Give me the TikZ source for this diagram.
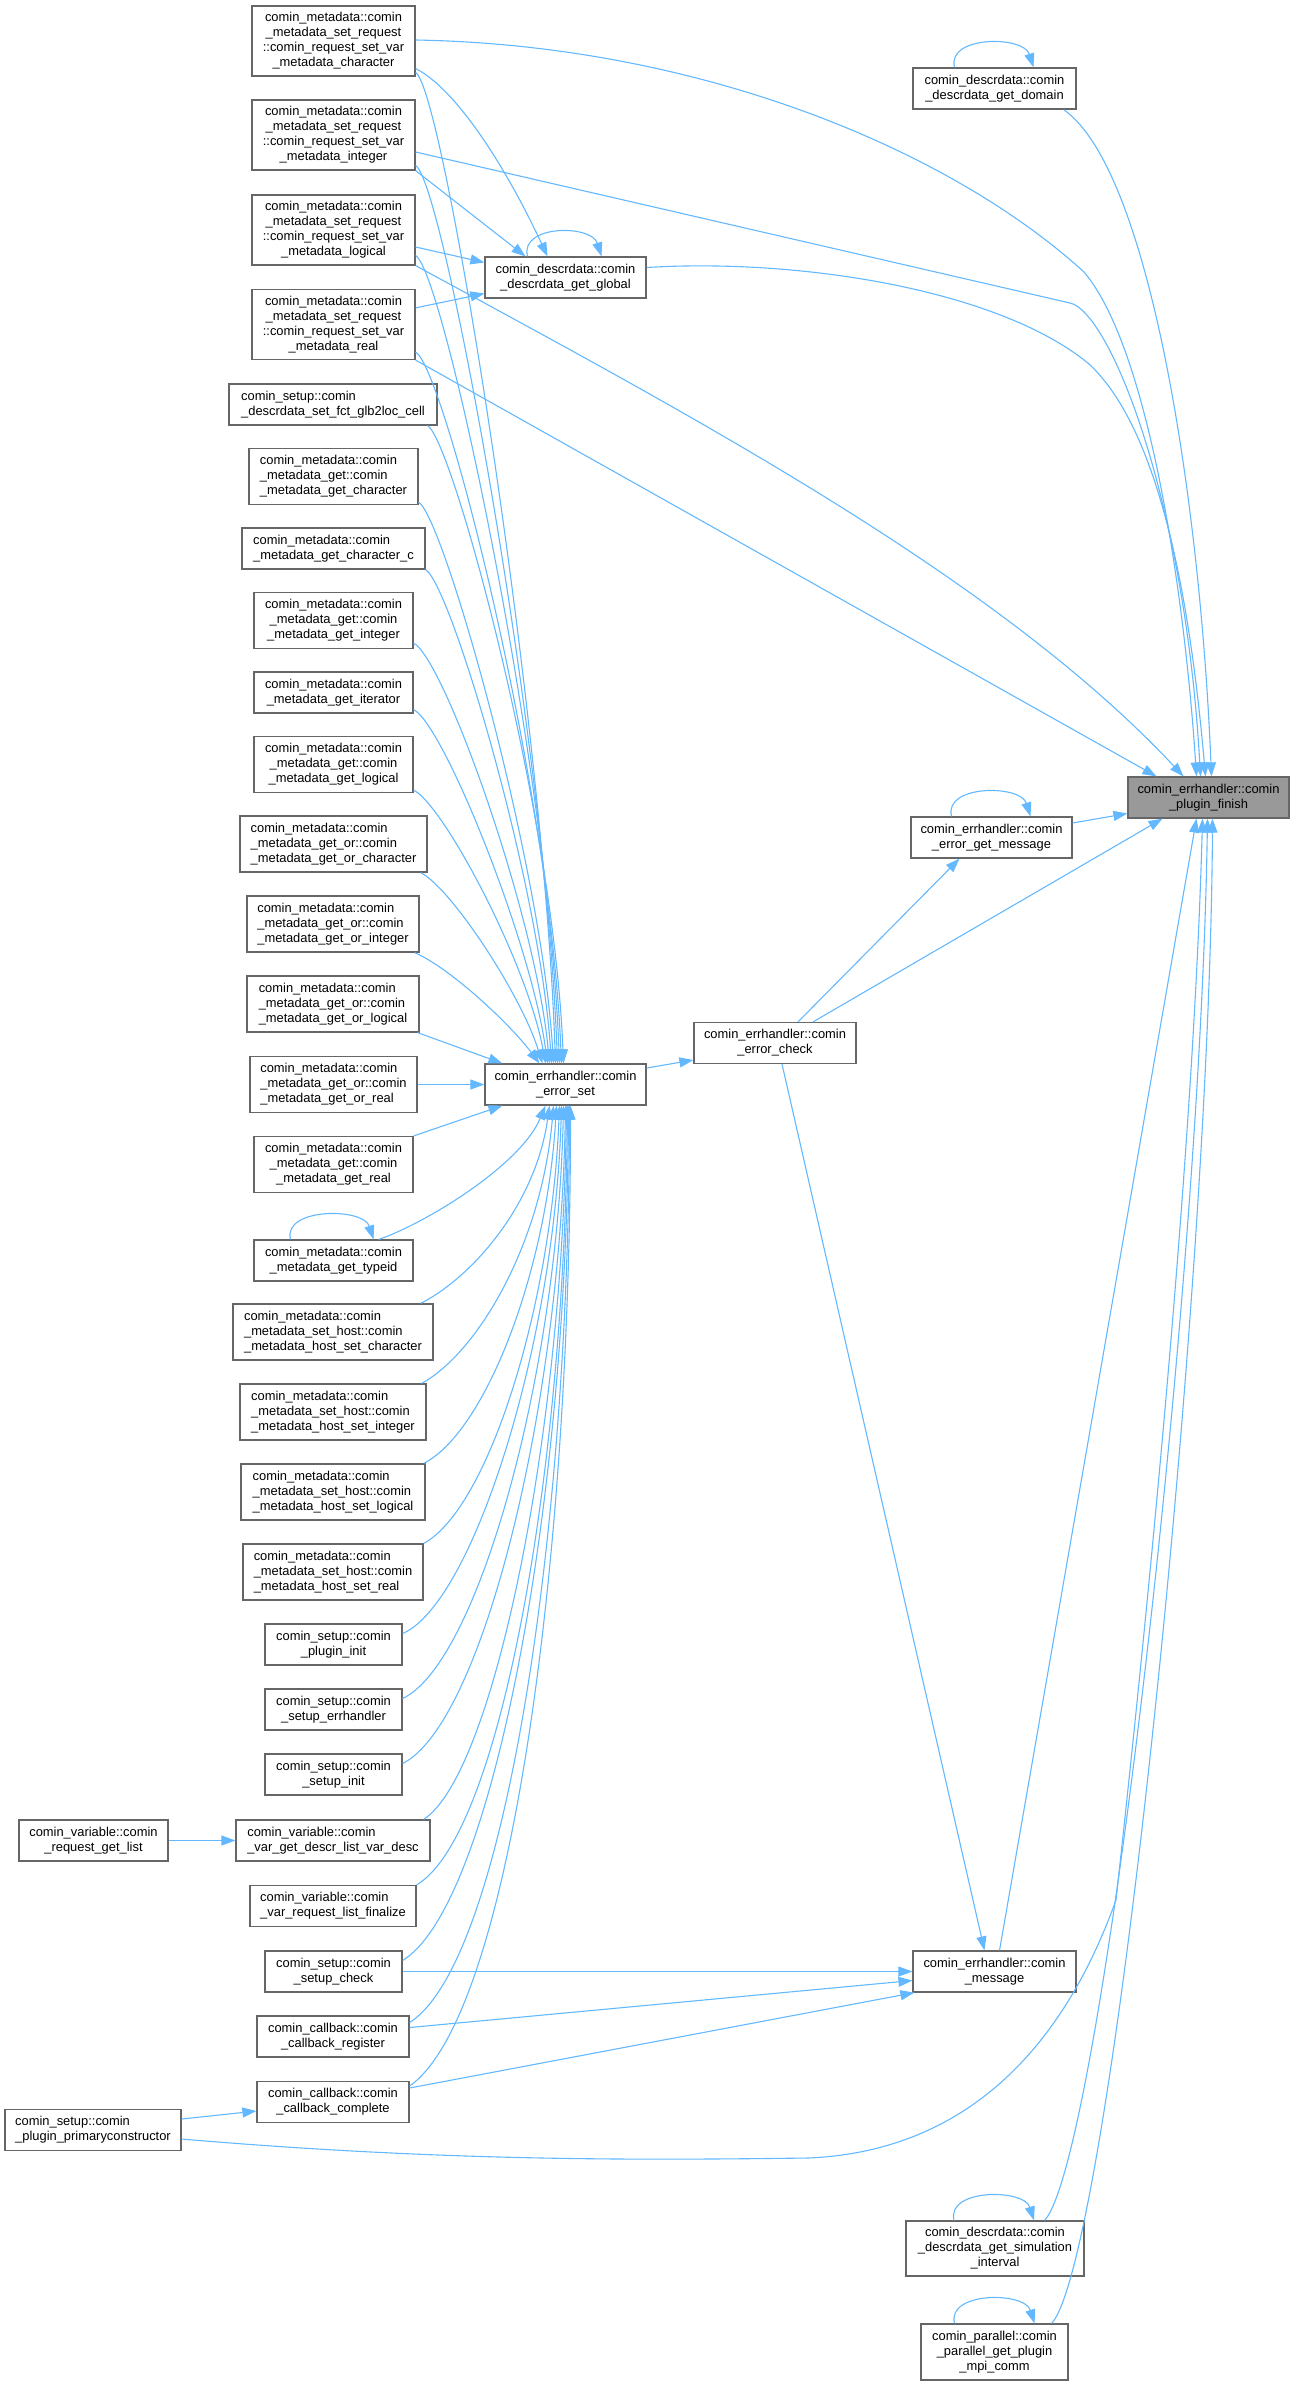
\documentclass[tikz,border=0pt]{standalone}
\usepackage{fontspec}
\setmainfont{Liberation Sans}
\usetikzlibrary{arrows.meta,calc}
\definecolor{edgeblue}{HTML}{63B8FF}
\definecolor{boxgray}{HTML}{666666}
\definecolor{rootgray}{HTML}{999999}
\tikzset{
  box/.style={draw=boxgray, line width=1.2pt, fill=white, rectangle, inner sep=0pt,
    align=center, font=\fontsize{12.9}{15}\selectfont, text=black},
  boxl/.style={box, align=left},
  sz/.style 2 args={minimum width=#1, minimum height=#2},
  conn/.style={draw=edgeblue, line width=1.1pt, -{Triangle[length=14pt,width=10pt]}},
}
\begin{document}
\begin{tikzpicture}[x=1pt,y=-1pt]
\useasboundingbox (0,0) rectangle (1295,2386);

% ---------- column 2 ----------
\node[box, sz={163pt}{70pt}] (src) at (333.5,41) {comin\_metadata::comin\\\_metadata\_set\_request\\::comin\_request\_set\_var\\\_metadata\_character};
\node[box, sz={163pt}{70pt}] (sri) at (333.5,135) {comin\_metadata::comin\\\_metadata\_set\_request\\::comin\_request\_set\_var\\\_metadata\_integer};
\node[box, sz={163pt}{70pt}] (srl) at (333.5,230) {comin\_metadata::comin\\\_metadata\_set\_request\\::comin\_request\_set\_var\\\_metadata\_logical};
\node[box, sz={163pt}{70pt}] (srr) at (333.5,324.5) {comin\_metadata::comin\\\_metadata\_set\_request\\::comin\_request\_set\_var\\\_metadata\_real};
\node[boxl, sz={208pt}{41pt}] (glb) at (333,404.5) {comin\_setup::comin\\\_descrdata\_set\_fct\_glb2loc\_cell};
\node[boxl, sz={169pt}{56pt}] (gch) at (333.5,476.5) {comin\_metadata::comin\\\_metadata\_get::comin\\\_metadata\_get\_character};
\node[boxl, sz={183pt}{41pt}] (gcc) at (333.5,548.5) {comin\_metadata::comin\\\_metadata\_get\_character\_c};
\node[box, sz={159pt}{56pt}] (gin) at (333.5,620.5) {comin\_metadata::comin\\\_metadata\_get::comin\\\_metadata\_get\_integer};
\node[box, sz={159pt}{41pt}] (git) at (333.5,692.5) {comin\_metadata::comin\\\_metadata\_get\_iterator};
\node[box, sz={159pt}{56pt}] (glo) at (333.5,764.5) {comin\_metadata::comin\\\_metadata\_get::comin\\\_metadata\_get\_logical};
\node[boxl, sz={187pt}{56pt}] (goc) at (333.5,844) {comin\_metadata::comin\\\_metadata\_get\_or::comin\\\_metadata\_get\_or\_character};
\node[boxl, sz={172pt}{56pt}] (goi) at (333,924) {comin\_metadata::comin\\\_metadata\_get\_or::comin\\\_metadata\_get\_or\_integer};
\node[boxl, sz={172pt}{56pt}] (gol) at (333,1004) {comin\_metadata::comin\\\_metadata\_get\_or::comin\\\_metadata\_get\_or\_logical};
\node[boxl, sz={167pt}{56pt}] (gor) at (333.5,1084.5) {comin\_metadata::comin\\\_metadata\_get\_or::comin\\\_metadata\_get\_or\_real};
\node[box, sz={159pt}{56pt}] (gre) at (333.5,1164.5) {comin\_metadata::comin\\\_metadata\_get::comin\\\_metadata\_get\_real};
\node[box, sz={159pt}{41pt}] (gty) at (333.5,1260.5) {comin\_metadata::comin\\\_metadata\_get\_typeid};
\node[boxl, sz={200pt}{56pt}] (hsc) at (333,1332) {comin\_metadata::comin\\\_metadata\_set\_host::comin\\\_metadata\_host\_set\_character};
\node[boxl, sz={186pt}{56pt}] (hsi) at (333,1412) {comin\_metadata::comin\\\_metadata\_set\_host::comin\\\_metadata\_host\_set\_integer};
\node[boxl, sz={184pt}{56pt}] (hsl) at (333,1492) {comin\_metadata::comin\\\_metadata\_set\_host::comin\\\_metadata\_host\_set\_logical};
\node[boxl, sz={180pt}{56pt}] (hsr) at (333,1572) {comin\_metadata::comin\\\_metadata\_set\_host::comin\\\_metadata\_host\_set\_real};
\node[box, sz={137pt}{41pt}] (pin) at (333.5,1644.5) {comin\_setup::comin\\\_plugin\_init};
\node[box, sz={137pt}{41pt}] (ser) at (333.5,1709.5) {comin\_setup::comin\\\_setup\_errhandler};
\node[box, sz={137pt}{41pt}] (sin) at (333.5,1774.5) {comin\_setup::comin\\\_setup\_init};
\node[boxl, sz={194pt}{41pt}] (vdl) at (333,1840.5) {comin\_variable::comin\\\_var\_get\_descr\_list\_var\_desc};
\node[boxl, sz={166pt}{41pt}] (vrf) at (333,1906) {comin\_variable::comin\\\_var\_request\_list\_finalize};
\node[box, sz={137pt}{41pt}] (sck) at (333.5,1971.5) {comin\_setup::comin\\\_setup\_check};
\node[box, sz={152pt}{41pt}] (cbr) at (333,2036.5) {comin\_callback::comin\\\_callback\_register};
\node[box, sz={152pt}{41pt}] (cbc) at (333,2102) {comin\_callback::comin\\\_callback\_complete};

% ---------- column 1 ----------
\node[box, sz={149pt}{41pt}] (rgl) at (93.5,1840.5) {comin\_variable::comin\\\_request\_get\_list};
\node[boxl, sz={176pt}{41pt}] (ppc) at (93,2130) {comin\_setup::comin\\\_plugin\_primaryconstructor};

% ---------- columns 3-6 ----------
\node[box, sz={161pt}{41pt}] (ggl) at (565.5,277.5) {comin\_descrdata::comin\\\_descrdata\_get\_global};
\node[box, sz={161pt}{41pt}] (ers) at (565.5,1084.5) {comin\_errhandler::comin\\\_error\_set};
\node[box, sz={162pt}{41pt}] (ech) at (775,1043) {comin\_errhandler::comin\\\_error\_check};
\node[box, sz={163pt}{41pt}] (gdo) at (994.5,88.5) {comin\_descrdata::comin\\\_descrdata\_get\_domain};
\node[box, sz={161pt}{41pt}] (egm) at (991.5,837.5) {comin\_errhandler::comin\\\_error\_get\_message};
\node[box, sz={163pt}{41pt}] (msg) at (994.5,1971.5) {comin\_errhandler::comin\\\_message};
\node[box, sz={178pt}{55pt}] (sim) at (995,2248.5) {comin\_descrdata::comin\\\_descrdata\_get\_simulation\\\_interval};
\node[box, sz={147pt}{56pt}] (mpi) at (994.5,2352) {comin\_parallel::comin\\\_parallel\_get\_plugin\\\_mpi\_comm};
\node[box, fill=rootgray, sz={161pt}{41pt}] (pfn) at (1208.5,797.5) {comin\_errhandler::comin\\\_plugin\_finish};

% ---------- edges into plugin_finish ----------
\draw[conn] ($(src.east)+(0,-1)$) .. controls (700,45) and (950,150) .. (1084,272) .. controls (1150,350) and (1185,600) .. ($(pfn.north)+(-12,0)$);
\draw[conn] ($(sri.east)+(0,17)$) -- (1070,303) .. controls (1110,312) and (1185,500) .. ($(pfn.north)+(-8,0)$);
\draw[conn] (srl.south east) .. controls (700,420) and (1000,580) .. ($(pfn.north)+(-25,0)$);
\draw[conn] (srr.south east) -- ($(pfn.north)+(-52,0)$);
\draw[conn] ($(ggl.east)+(0,-10)$) .. controls (800,258) and (1000,290) .. (1089,364) .. controls (1160,430) and (1190,600) .. ($(pfn.north)+(-3,0)$);
\draw[conn] ($(gdo.south east)+(-13,0)$) .. controls (1150,170) and (1200,500) .. ($(pfn.north)+(3,0)$);
\draw[conn] ($(egm.east)+(0,-14.5)$) -- ($(pfn.west)+(0,16)$);
\draw[conn] ($(ech.north)+(38,0)$) -- ($(pfn.south)+(-46,0)$);
\draw[conn] ($(msg.north)+(5,0)$) -- ($(pfn.south)+(-12,0)$);
\draw[conn] ($(ppc.east)+(0,9)$) .. controls (450,2162) and (650,2160) .. (808,2158) .. controls (1000,2150) and (1080,2000) .. (1116,1900) .. controls (1160,1500) and (1195,1100) .. ($(pfn.south)+(-6,0)$);
\draw[conn] ($(sim.north east)+(-40,0)$) .. controls (1100,2160) and (1200,1300) .. ($(pfn.south)+(-1,0)$);
\draw[conn] ($(mpi.north east)+(-17,0)$) .. controls (1110,2260) and (1210,1300) .. ($(pfn.south)+(4,0)$);

% ---------- error chain ----------
\draw[conn] ($(ers.east)+(0,-16.5)$) -- ($(ech.west)+(0,17)$);
\draw[conn] ($(ech.north)+(23,0)$) -- ($(egm.south)+(-32,0)$);
\draw[conn] ($(ech.south)+(7,0)$) -- ($(msg.north)+(-10,0)$);

% ---------- into message ----------
\draw[conn] (sck.east) -- (msg.west);
\draw[conn] ($(cbr.east)+(0,-9)$) -- ($(msg.west)+(0,9)$);
\draw[conn] ($(cbc.east)+(0,-14)$) -- ($(msg.south west)+(2,0)$);

% ---------- column 1 edges ----------
\draw[conn] (rgl.east) -- (vdl.west);
\draw[conn] ($(ppc.east)+(0,-11)$) -- ($(cbc.west)+(0,9)$);

% ---------- into get_global ----------
\draw[conn] ($(src.south east)+(0,-8)$) .. controls (455,88) and (505,165) .. ($(ggl.north)+(-18,0)$);
\draw[conn] (sri.south east) -- ($(ggl.north)+(-40,0)$);
\draw[conn] ($(srl.east)+(0,17)$) -- ($(ggl.west)+(0,-15)$);
\draw[conn] ($(srr.north east)+(0,19)$) -- ($(ggl.west)+(0,16)$);

% ---------- self loops ----------
\draw[conn] ($(ggl.north)+(-38,0)$) .. controls +(-8,-32) and +(-10,-32) .. ($(ggl.north)+(36,0)$);
\draw[conn] ($(gdo.north)+(-40,0)$) .. controls +(-8,-32) and +(-10,-32) .. ($(gdo.north)+(39,0)$);
\draw[conn] ($(egm.north)+(-40,0)$) .. controls +(-8,-32) and +(-10,-32) .. ($(egm.north)+(39,0)$);
\draw[conn] ($(gty.north)+(-43,0)$) .. controls +(-8,-32) and +(-10,-32) .. ($(gty.north)+(40,0)$);
\draw[conn] ($(sim.north)+(-41,0)$) .. controls +(-8,-32) and +(-10,-32) .. ($(sim.north)+(39,0)$);
\draw[conn] ($(mpi.north)+(-40,0)$) .. controls +(-8,-32) and +(-10,-32) .. ($(mpi.north)+(40,0)$);

% ---------- into error_set from above ----------
\draw[conn] ($(src.south east)+(0,-4)$) .. controls +(28,15) and +(-12,-350) .. ($(ers.north)+(-10,0)$);
\draw[conn] ($(sri.south east)+(0,-5)$) .. controls +(28,15) and +(-12,-320) .. ($(ers.north)+(-8,0)$);
\draw[conn] ($(srl.south east)+(0,-10)$) .. controls +(28,15) and +(-12,-300) .. ($(ers.north)+(-6,0)$);
\draw[conn] ($(srr.south east)+(0,-8)$) .. controls +(28,15) and +(-12,-280) .. ($(ers.north)+(-4,0)$);
\draw[conn] ($(glb.south east)+(-10,0)$) .. controls +(25,15) and +(-10,-250) .. ($(ers.north)+(-2,0)$);
\draw[conn] ($(gch.south east)+(0,-3)$) .. controls +(25,15) and +(-12,-200) .. ($(ers.north)+(-12,0)$);
\draw[conn] (gcc.south east) .. controls +(25,15) and +(-12,-180) .. ($(ers.north)+(-14,0)$);
\draw[conn] ($(gin.south east)+(0,-6)$) .. controls +(30,15) and +(-14,-150) .. ($(ers.north)+(-16,0)$);
\draw[conn] ($(git.south east)+(0,-4)$) .. controls +(30,15) and +(-16,-120) .. ($(ers.north)+(-18,0)$);
\draw[conn] ($(glo.south east)+(0,-3)$) .. controls +(30,15) and +(-18,-100) .. ($(ers.north)+(-20,0)$);
\draw[conn] ($(goc.south east)+(-7,0)$) .. controls +(30,15) and +(-22,-70) .. ($(ers.north)+(-23,0)$);
\draw[conn] ($(goi.south east)+(-5,0)$) .. controls +(35,15) and +(-30,-40) .. ($(ers.north)+(-26,0)$);
\draw[conn] ($(gol.south east)+(-2,0)$) -- ($(ers.north west)+(18,0)$);
\draw[conn] (gor.east) -- (ers.west);
\draw[conn] (gre.north east) -- ($(ers.south west)+(18,0)$);

% ---------- into error_set from below ----------
\draw[conn] ($(gty.north east)+(-35,0)$) .. controls +(45,-15) and +(-25,60) .. ($(ers.south)+(-20,0)$);
\draw[conn] ($(hsc.north east)+(-13,0)$) .. controls +(50,-25) and +(-14,100) .. ($(ers.south)+(-16,0)$);
\draw[conn] ($(hsi.north east)+(-5,0)$) .. controls +(55,-30) and +(-12,140) .. ($(ers.south)+(-12,0)$);
\draw[conn] ($(hsl.north east)+(-2,0)$) .. controls +(60,-30) and +(-10,170) .. ($(ers.south)+(-9,0)$);
\draw[conn] (hsr.north east) .. controls +(65,-35) and +(-8,200) .. ($(ers.south)+(-6,0)$);
\draw[conn] ($(pin.east)+(0,-11)$) .. controls +(70,-30) and +(-7,240) .. ($(ers.south)+(-4,0)$);
\draw[conn] ($(ser.east)+(0,-11)$) .. controls +(75,-35) and +(-6,270) .. ($(ers.south)+(-2,0)$);
\draw[conn] ($(sin.east)+(0,-11)$) .. controls +(80,-40) and +(-5,300) .. ($(ers.south)+(0,0)$);
\draw[conn] ($(vdl.north east)+(-7,0)$) .. controls +(70,-45) and +(-4,330) .. ($(ers.south)+(1,0)$);
\draw[conn] (vrf.north east) .. controls +(85,-50) and +(-3,360) .. ($(ers.south)+(2,0)$);
\draw[conn] ($(sck.east)+(0,-11)$) .. controls +(90,-55) and +(-2,400) .. ($(ers.south)+(3,0)$);
\draw[conn] ($(cbr.east)+(0,-14)$) .. controls +(95,-60) and +(-1,430) .. ($(ers.south)+(4,0)$);
\draw[conn] ($(cbc.east)+(0,-16)$) .. controls +(100,-70) and +(0,460) .. ($(ers.south)+(5,0)$);
\end{tikzpicture}
\end{document}
